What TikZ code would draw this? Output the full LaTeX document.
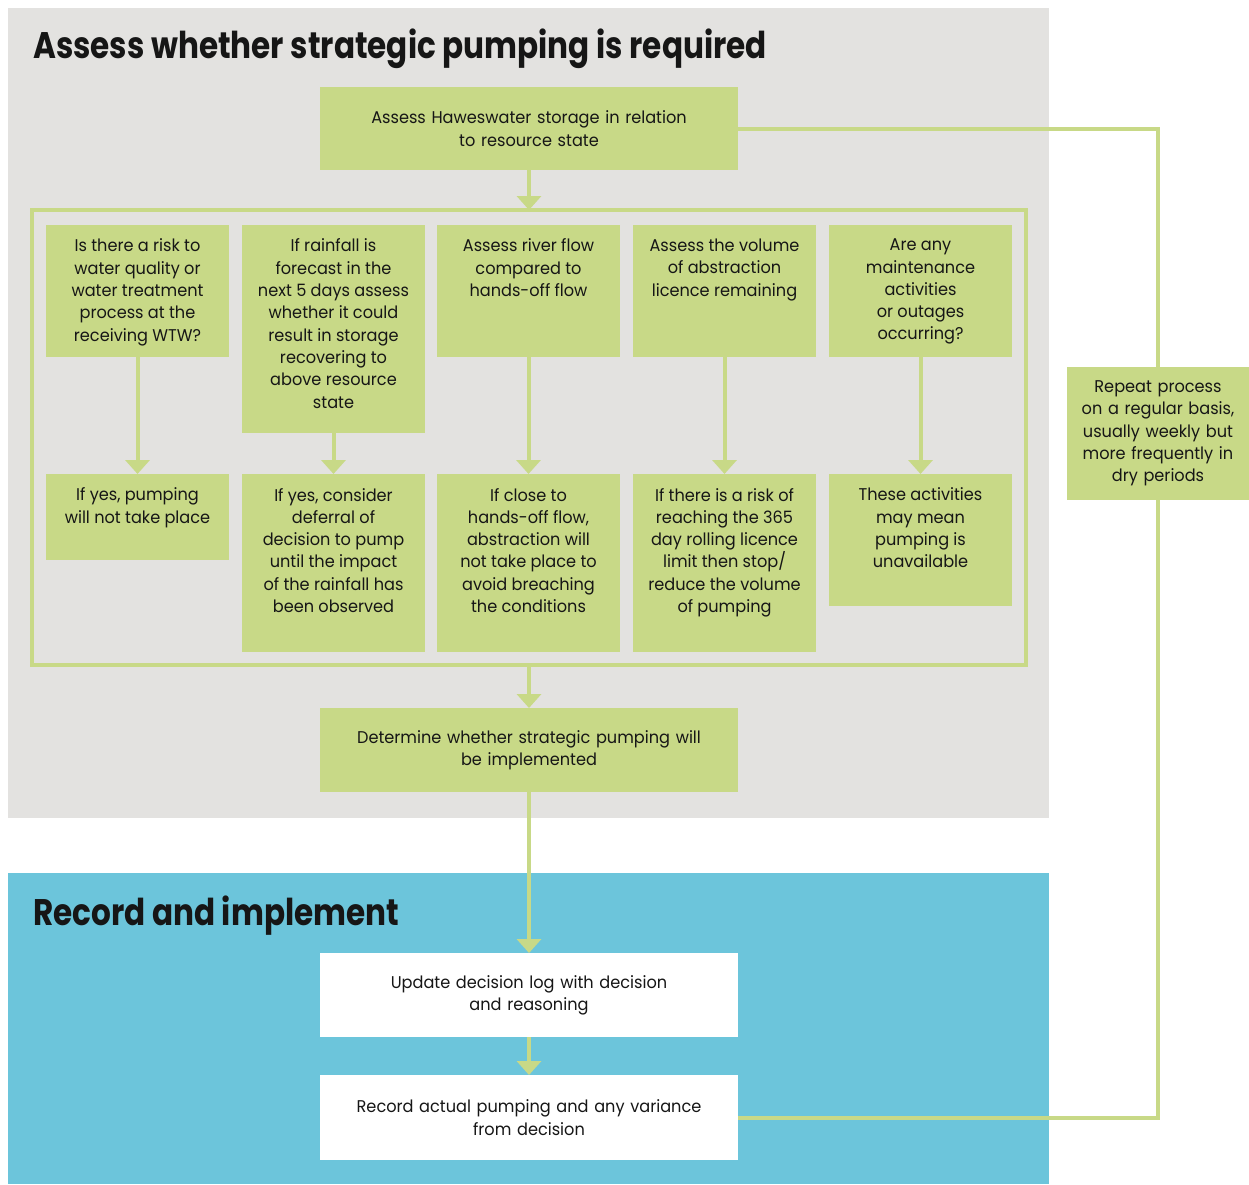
\documentclass[tikz,border=0pt]{standalone}
\usepackage{fontspec}
\setmainfont[FakeStretch=0.95]{Poppins}
\newfontfamily\titlefont[FakeStretch=0.84]{Poppins}
\usetikzlibrary{arrows.meta}
\definecolor{gr}{HTML}{C8D987}
\definecolor{panelgray}{HTML}{E3E2E0}
\definecolor{panelblue}{HTML}{6CC5DB}
\definecolor{ink}{HTML}{161616}
\newcommand\tb[2]{\parbox[c][#1pt][t]{183pt}{\centering\vspace*{14pt}#2\par}}
\begin{document}
\begin{tikzpicture}[x=1pt,y=-1pt,
  every node/.style={text=ink},
  body/.style={font=\fontsize{17}{22.3}\selectfont},
  box/.style={body, fill=gr, inner sep=0pt, outer sep=0pt, anchor=north west},
  wide/.style={body, fill=gr, inner sep=0pt, outer sep=0pt, anchor=north west, minimum width=418pt, align=center, text width=418pt},
  whitebox/.style={wide, fill=white},
  ttl/.style={font=\titlefont\bfseries\fontsize{37}{40}\selectfont, anchor=base west, inner sep=0pt},
  flow/.style={draw=gr, line width=4pt, -{Triangle[width=24pt,length=14pt]}},
  link/.style={draw=gr, line width=4pt},
]
\useasboundingbox (0,0) rectangle (1249,1184);
\fill[white] (0,0) rectangle (1249,1184);
\fill[panelgray] (8,8) rectangle (1049,818);
\fill[panelblue] (8,873) rectangle (1049,1184);

\node[ttl] (t1) at (33,58) {Assess whether strategic pumping is required};
\node[ttl] (t2) at (33,925) {Record and implement};

\node[wide, minimum height=83pt] (top) at (320,87) {Assess Haweswater storage in relation\\to resource state};

\node[draw=gr, line width=4pt, minimum width=994pt, minimum height=455pt, inner sep=0pt, outer sep=0pt] (grp) at (529,437.5) {};

\node[box] (q1) at (46,225) {\tb{132}{Is there a risk to\\water quality or\\water treatment\\process at the\\receiving WTW?}};
\node[box] (q2) at (242,225) {\tb{208}{If rainfall is\\forecast in the\\next 5 days assess\\whether it could\\result in storage\\recovering to\\above resource\\state}};
\node[box] (q3) at (437,225) {\tb{132}{Assess river flow\\compared to\\hands-off flow}};
\node[box] (q4) at (633,225) {\tb{132}{Assess the volume\\of abstraction\\licence remaining}};
\node[box] (q5) at (829,225) {\tb{132}{Are any\\maintenance\\activities\\or outages\\occurring?}};

\node[box] (a1) at (46,474) {\tb{86}{If yes, pumping\\will not take place}};
\node[box] (a2) at (242,474) {\tb{178}{If yes, consider\\deferral of\\decision to pump\\until the impact\\of the rainfall has\\been observed}};
\node[box] (a3) at (437,474) {\tb{178}{If close to\\hands-off flow,\\abstraction will\\not take place to\\avoid breaching\\the conditions}};
\node[box] (a4) at (633,474) {\tb{178}{If there is a risk of\\reaching the 365\\day rolling licence\\limit then stop/\\reduce the volume\\of pumping}};
\node[box] (a5) at (829,474) {\tb{132}{These activities\\may mean\\pumping is\\unavailable}};

\node[wide, minimum height=84pt] (det) at (320,708) {Determine whether strategic pumping will\\be implemented};
\node[whitebox, minimum height=84pt] (upd) at (320,953) {Update decision log with decision\\and reasoning};
\node[whitebox, minimum height=85pt] (rec) at (320,1075) {Record actual pumping and any variance\\from decision};

\node[body, fill=gr, inner sep=0pt, outer sep=0pt, anchor=north west, minimum width=182pt, minimum height=133pt, text width=182pt, align=center] (rep) at (1067,367) {Repeat process\\on a regular basis,\\usually weekly but\\more frequently in\\dry periods};

\draw[flow] (top.south) -- (grp.north);
\foreach \i in {1,...,5} \draw[flow] (q\i.south) -- (a\i.north);
\draw[flow] (grp.south) -- (det.north);
\draw[flow] (det.south) -- (upd.north);
\draw[flow] (upd.south) -- (rec.north);
\draw[link] (top.east) -| (rep.north);
\draw[link] (rep.south) |- (rec.east);
\end{tikzpicture}
\end{document}
